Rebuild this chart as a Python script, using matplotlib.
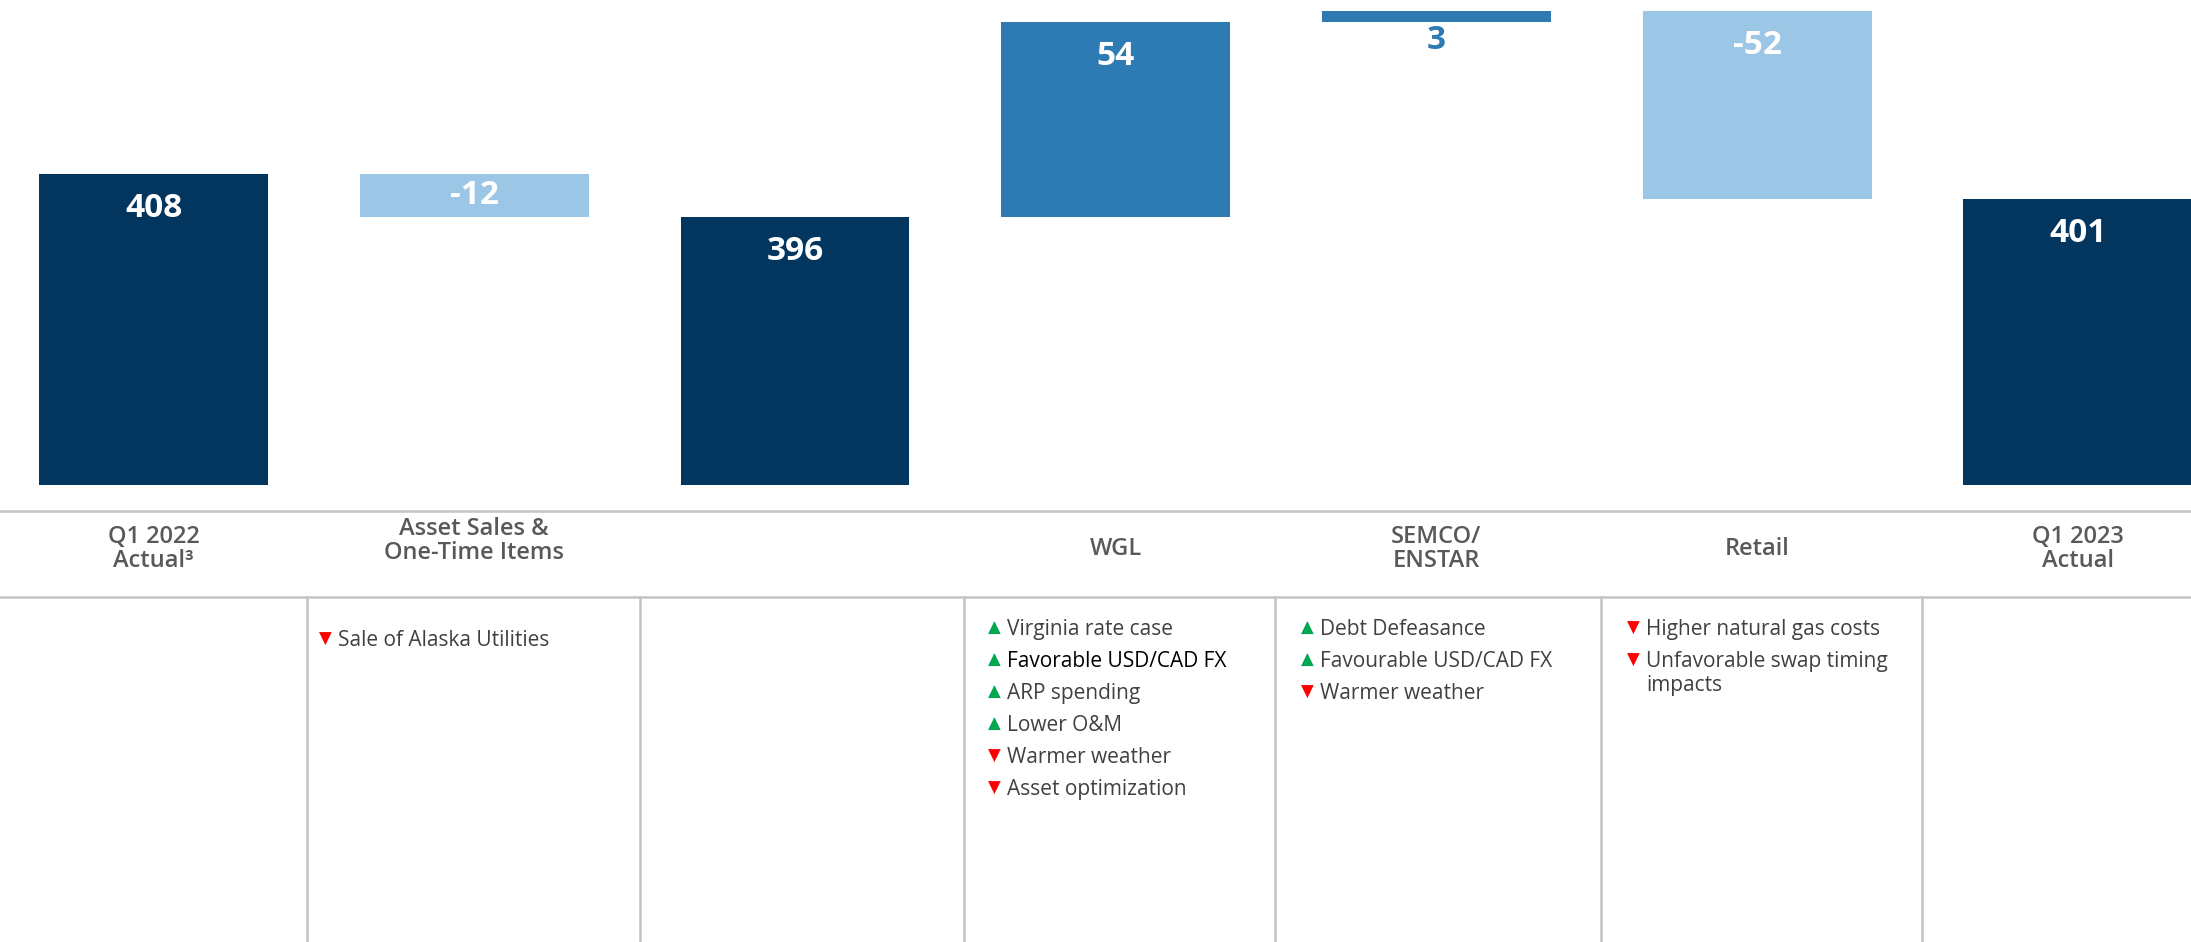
import matplotlib.pyplot as plt
from matplotlib.transforms import blended_transform_factory

plt.rcParams['font.family'] = ['Open Sans', 'DejaVu Sans']

# data
categories = ["Q1 2022\nActual³", "Asset Sales &\nOne-Time Items", "", "WGL",
              "SEMCO/\nENSTAR", "Retail", "Q1 2023\nActual"]
values = [408, -12, 396, 54, 3, -52, 401]
is_total = [True, False, True, False, False, False, True]

# drivers listed under each category (column index, up/down, text)
bullet_cols = [1, 3, 4, 5]
bullet_items = [
    [("down", "Sale of Alaska Utilities")],
    [("up", "Virginia rate case"), ("up", "Favorable USD/CAD FX"), ("up", "ARP spending"),
     ("up", "Lower O&M"), ("down", "Warmer weather"), ("down", "Asset optimization")],
    [("up", "Debt Defeasance"), ("up", "Favourable USD/CAD FX"), ("down", "Warmer weather")],
    [("down", "Higher natural gas costs"), ("down", "Unfavorable swap timing\nimpacts")],
]

NAVY = "#02365f"
MID = "#2e7bb3"
LIGHT = "#9bc6e5"
GRID = "#c3c3c3"
LABEL = "#595959"
TEXT = "#404040"

W, H = 2191, 942
fig = plt.figure(figsize=(W / 100, H / 100), dpi=100)

# table / overlay in pixel coordinates
ov = fig.add_axes([0, 0, 1, 1])
ov.set_xlim(0, W)
ov.set_ylim(H, 0)
ov.axis('off')

# bar axes (truncated value axis)
base_px = 485
ymin, ymax = 322, 456
ax = fig.add_axes([0, (H - base_px) / H, 1, base_px / H])
ax.set_xlim(-0.479, 6.353)
ax.set_ylim(ymin, ymax)
ax.axis('off')
px_per_unit = base_px / (ymax - ymin)

running = 0
for i, (v, tot) in enumerate(zip(values, is_total)):
    if tot:
        bottom, height, color = 0, v, NAVY
        running = v
        top = v
    else:
        bottom, height = running, v
        color = MID if v > 0 else LIGHT
        running += v
        top = max(bottom, running)
    ax.bar(i, height, bottom=bottom, width=0.714, color=color, zorder=2)
    label = f"{v}"
    bar_px = 999 if tot else abs(height) * px_per_unit
    if bar_px > 70:
        ax.annotate(label, (i, top), xytext=(0, -25), textcoords='offset points',
                    ha='center', va='center', color='white', fontsize=24,
                    fontweight='bold', zorder=3)
    elif bar_px > 30:
        ax.text(i, bottom + height / 2, label, ha='center', va='center',
                color='white', fontsize=24, fontweight='bold', zorder=3)
    else:
        ax.annotate(label, (i, min(bottom, running)), xytext=(0, -2),
                    textcoords='offset points', ha='center', va='top',
                    color=color, fontsize=24, fontweight='bold', zorder=3)

# table lines
ov.plot([0, W], [511, 511], color=GRID, lw=1.8)
ov.plot([0, W], [597, 597], color=GRID, lw=1.8)
dividers = [307, 640, 964, 1275, 1601, 1922]
for d in dividers:
    ov.plot([d, d], [597, H], color=GRID, lw=1.8)

# category labels centred under bars
tr = blended_transform_factory(ax.transData, ov.transData)
for i, c in enumerate(categories):
    if not c:
        continue
    y = 541 if i == 1 else 549
    ov.text(i, y, c, transform=tr, ha='center', va='center', fontsize=17,
            color=LABEL, fontweight='semibold', linespacing=1.0)

# bullets
tri_x = {1: 320, 3: 989, 4: 1302, 5: 1628}
for col, items in zip(bullet_cols, bullet_items):
    y = 638 if col == 1 else 627
    for kind, txt in items:
        sym = "▲" if kind == "up" else "▼"
        sc = "#00a650" if kind == "up" else "#ff0000"
        ov.text(tri_x[col] - 1, y + 1, sym, ha='left', va='center', fontsize=12,
                color=sc, family='DejaVu Sans')
        tc = "black" if txt == "Favorable USD/CAD FX" else TEXT
        ov.text(tri_x[col] + 18, y - 8, txt, ha='left', va='top',
                fontsize=15, color=tc, linespacing=1.2)
        y += 32

fig.savefig("out.png", dpi=100)
